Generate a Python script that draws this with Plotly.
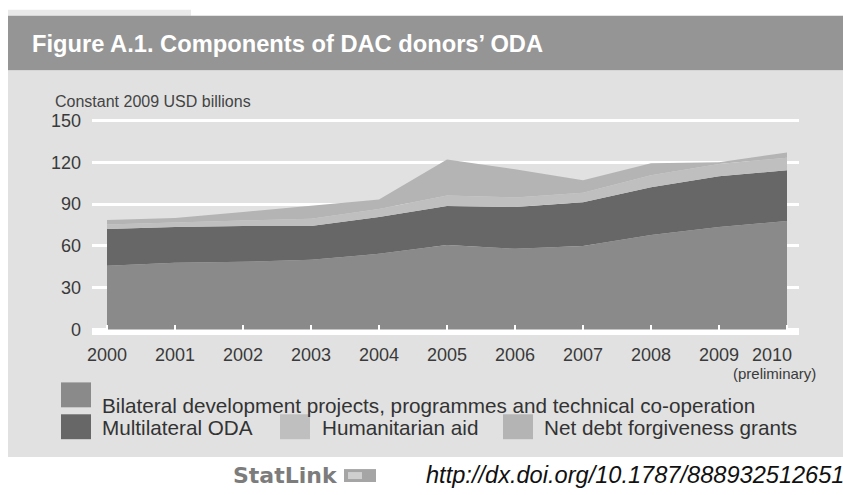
import plotly.graph_objects as go

# Components of DAC donors' ODA, constant 2009 USD billions
years = [2000, 2001, 2002, 2003, 2004, 2005, 2006, 2007, 2008, 2009, 2010]
year_labels = ["2000", "2001", "2002", "2003", "2004", "2005", "2006", "2007", "2008", "2009", "2010"]
bilateral = [45.7, 47.9, 48.6, 50.0, 54.3, 60.7, 57.9, 60.0, 67.9, 73.6, 77.9]
multilateral = [26.4, 25.7, 25.7, 24.3, 26.4, 27.9, 30.0, 31.4, 34.1, 36.4, 36.4]
humanitarian = [3.2, 3.3, 3.9, 5.2, 5.8, 7.6, 6.9, 6.7, 8.6, 8.7, 9.0]
debt_relief = [3.3, 3.1, 6.1, 9.1, 6.8, 25.7, 20.2, 9.0, 8.7, 1.3, 3.7]

series_names = [
    "Bilateral development projects, programmes and technical co-operation",
    "Multilateral ODA",
    "Humanitarian aid",
    "Net debt forgiveness grants",
]
series_values = [bilateral, multilateral, humanitarian, debt_relief]
series_colors = ["#8a8a8a", "#676767", "#bfbfbf", "#b4b4b4"]
y_ticks = [0, 30, 60, 90, 120, 150]

W, H = 843, 495
ML, MR = 92, 44
Y_MIN, Y_MAX = -1, 151
PX_PER_UNIT = 1.4
ZERO_PX = 330
MT = ZERO_PX - Y_MAX * PX_PER_UNIT
MB = H - (ZERO_PX - Y_MIN * PX_PER_UNIT)
PLOT_W = W - ML - MR
PLOT_H = H - MT - MB

FONT = "Liberation Sans, Arial, Helvetica, sans-serif"


def px_x(px):
    return (px - ML) / PLOT_W


def px_y(py):
    return (H - MB - py) / PLOT_H


fig = go.Figure()

for name, vals, col in zip(series_names, series_values, series_colors):
    fig.add_trace(go.Scatter(
        x=years, y=vals, name=name, stackgroup="oda", mode="lines",
        line=dict(width=0, color=col), fillcolor=col, showlegend=False,
        hovertemplate="%{x}: %{y:.1f}<extra>" + name + "</extra>",
    ))

shapes = []
annotations = []


def rect(x0, y0, x1, y1, color, layer="below"):
    shapes.append(dict(type="rect", xref="paper", yref="paper",
                       x0=px_x(x0), x1=px_x(x1), y0=px_y(y1), y1=px_y(y0),
                       fillcolor=color, line=dict(width=0), layer=layer))


def text(x, y, s, size, color="#3c3c3c", anchor="left", family=FONT):
    annotations.append(dict(xref="paper", yref="paper", x=px_x(x), y=px_y(y),
                            text=s, showarrow=False, xanchor=anchor, yanchor="middle",
                            font=dict(size=size, color=color, family=family)))


# page strips: thin header remnant, title band, chart panel
rect(8, 9, 191, 15, "#e9e9e9")
rect(8, 15, W, 70, "#959595")
rect(8, 70, W, 458, "#e1e1e1")

text(30, 43, "<b>Figure A.1. Components of DAC donors’ ODA</b>", 23.7, color="#ffffff")
text(53, 101, "Constant 2009 USD billions", 16, color="#444444")

# x tick labels placed on the data axis
for yr, lab in zip(years, year_labels):
    annotations.append(dict(xref="x", yref="y", x=yr, y=0, text=lab, showarrow=False,
                            xanchor="center", yanchor="middle", yshift=-25,
                            xshift=-15 if yr == years[-1] else 0,
                            font=dict(size=18, color="#3a3a3a", family=FONT)))
annotations.append(dict(xref="x", yref="y", x=years[-1], y=0, text="(preliminary)",
                        showarrow=False, xanchor="center", yanchor="middle",
                        yshift=-44, xshift=-13,
                        font=dict(size=15, color="#3a3a3a", family=FONT)))

# legend
legend_items = [
    (61, 383, 100, 406),
    (61, 415, 100, 428),
    (280, 415, 320, 428),
    (503, 415, 542, 428),
]
for (sx, sy, tx, ty), name, col in zip(legend_items, series_names, series_colors):
    rect(sx, sy, sx + 30, sy + 25, col, layer="above")
    text(tx, ty, name, 20.7, color="#333333")

# StatLink footer
text(231, 476, "<b>StatLink</b>", 22, color="#7c7c7c",
     family="DejaVu Sans, Liberation Sans, sans-serif")
rect(344, 470, 376, 483, "#a5a5a5", layer="above")
rect(348, 473, 362, 480, "#cfcfcf", layer="above")
text(424, 476, "<i>http://dx.doi.org/10.1787/888932512651</i>", 23.6, color="#111111")

fig.update_layout(
    width=W, height=H,
    margin=dict(l=ML, r=MR, t=MT, b=MB, pad=0),
    paper_bgcolor="#ffffff", plot_bgcolor="rgba(0,0,0,0)",
    shapes=shapes, annotations=annotations,
    xaxis=dict(range=[2000 - 15 / 68, 2010 + 12 / 68], tickvals=years,
               showticklabels=False, ticks="inside", ticklen=6, tickwidth=2,
               tickcolor="#ffffff", showgrid=False, zeroline=False,
               showline=True, linecolor="#ffffff", linewidth=4, layer="above traces"),
    yaxis=dict(range=[Y_MIN, Y_MAX], tickvals=y_ticks, showgrid=True,
               gridcolor="#ffffff", gridwidth=2.5, zeroline=False, showline=False,
               ticks="", ticklabelstandoff=10,
               tickfont=dict(size=18, color="#3a3a3a", family=FONT)),
    showlegend=False,
)

fig.write_html("out.html")
